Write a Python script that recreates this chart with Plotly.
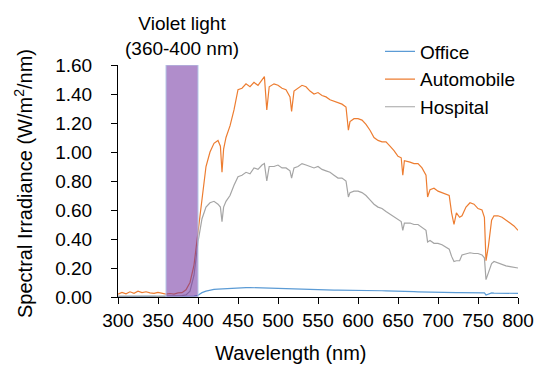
import plotly.graph_objects as go

# Wavelength (nm) sample positions
wavelength = [
    300, 305, 310, 315, 320, 325, 330, 335, 340, 345,
    350, 355, 360, 365, 370, 375, 380, 385, 390, 395,
    400, 405, 410, 415, 420, 425, 428, 430, 432, 435,
    440, 445, 450, 455, 460, 465, 470, 475, 480, 483,
    486, 489, 495, 500, 505, 510, 515, 517, 520, 525,
    530, 535, 540, 545, 550, 555, 560, 565, 570, 575,
    580, 585, 588, 590, 595, 600, 605, 610, 615, 620,
    625, 630, 635, 640, 645, 650, 654, 656, 658, 665,
    670, 675, 680, 685, 687, 690, 695, 700, 705, 710,
    714, 717, 720, 723, 727, 730, 735, 740, 745, 750,
    755, 758, 760, 763, 767, 770, 775, 780, 785, 790,
    795, 800,
]

office = [
    0.003, 0.003, 0.003, 0.003, 0.003, 0.003, 0.003, 0.003, 0.003, 0.003,
    0.003, 0.003, 0.003, 0.004, 0.003, 0.004, 0.004, 0.005, 0.005, 0.006,
    0.012, 0.030, 0.040, 0.048, 0.052, 0.055, 0.056, 0.056, 0.057, 0.058,
    0.062, 0.064, 0.066, 0.066, 0.065, 0.065, 0.064, 0.064, 0.062, 0.062,
    0.061, 0.061, 0.060, 0.060, 0.058, 0.056, 0.054, 0.054, 0.054, 0.053,
    0.053, 0.052, 0.052, 0.051, 0.050, 0.050, 0.050, 0.049, 0.048, 0.048,
    0.048, 0.047, 0.047, 0.046, 0.046, 0.046, 0.045, 0.045, 0.044, 0.044,
    0.043, 0.043, 0.042, 0.042, 0.041, 0.040, 0.040, 0.040, 0.039, 0.038,
    0.037, 0.036, 0.035, 0.034, 0.033, 0.033, 0.032, 0.032, 0.032, 0.031,
    0.031, 0.031, 0.030, 0.030, 0.030, 0.030, 0.030, 0.030, 0.030, 0.030,
    0.029, 0.028, 0.014, 0.022, 0.028, 0.027, 0.026, 0.026, 0.025, 0.025,
    0.025, 0.025,
]

automobile = [
    0.020, 0.032, 0.022, 0.036, 0.026, 0.040, 0.030, 0.036, 0.028, 0.025,
    0.032, 0.028, 0.020, 0.024, 0.020, 0.028, 0.030, 0.050, 0.100, 0.220,
    0.450, 0.680, 0.900, 1.000, 1.060, 1.080, 1.040, 0.860, 1.020, 1.100,
    1.180, 1.290, 1.430, 1.440, 1.470, 1.450, 1.480, 1.460, 1.500, 1.520,
    1.290, 1.450, 1.470, 1.460, 1.440, 1.430, 1.380, 1.280, 1.420, 1.440,
    1.460, 1.450, 1.420, 1.400, 1.410, 1.390, 1.380, 1.360, 1.350, 1.340,
    1.330, 1.310, 1.150, 1.210, 1.230, 1.230, 1.220, 1.190, 1.150, 1.100,
    1.080, 1.070, 1.070, 1.040, 1.010, 0.970, 0.960, 0.840, 0.940, 0.930,
    0.920, 0.920, 0.890, 0.840, 0.690, 0.740, 0.750, 0.730, 0.720, 0.710,
    0.700, 0.580, 0.500, 0.580, 0.550, 0.560, 0.620, 0.650, 0.640, 0.610,
    0.600, 0.550, 0.250, 0.350, 0.530, 0.560, 0.560, 0.550, 0.530, 0.510,
    0.490, 0.460,
]

hospital = [
    0.006, 0.005, 0.007, 0.006, 0.005, 0.006, 0.007, 0.005, 0.006, 0.006,
    0.005, 0.006, 0.006, 0.007, 0.006, 0.008, 0.010, 0.015, 0.040, 0.150,
    0.380, 0.540, 0.620, 0.650, 0.660, 0.640, 0.620, 0.520, 0.620, 0.660,
    0.700, 0.770, 0.830, 0.840, 0.860, 0.850, 0.890, 0.880, 0.910, 0.920,
    0.800, 0.900, 0.900, 0.910, 0.890, 0.890, 0.870, 0.820, 0.890, 0.900,
    0.920, 0.910, 0.900, 0.890, 0.900, 0.880, 0.870, 0.860, 0.840, 0.820,
    0.820, 0.800, 0.690, 0.720, 0.730, 0.730, 0.720, 0.700, 0.670, 0.640,
    0.620, 0.610, 0.590, 0.570, 0.550, 0.530, 0.520, 0.460, 0.510, 0.510,
    0.500, 0.500, 0.480, 0.460, 0.380, 0.390, 0.370, 0.370, 0.360, 0.340,
    0.330, 0.280, 0.245, 0.250, 0.250, 0.290, 0.300, 0.305, 0.300, 0.300,
    0.290, 0.270, 0.120, 0.170, 0.230, 0.245, 0.235, 0.220, 0.215, 0.210,
    0.205, 0.200,
]

series_names = ["Office", "Automobile", "Hospital"]
series_colors = ["#5B9BD5", "#ED7D31", "#A5A5A5"]

violet_band = [360, 400]
violet_label = "Violet light<br>(360-400 nm)"
x_ticks = list(range(300, 801, 50))
y_ticks = [0.0, 0.2, 0.4, 0.6, 0.8, 1.0, 1.2, 1.4, 1.6]

FONT = "Liberation Sans, Arial, sans-serif"

fig = go.Figure()
for name, vals, col in zip(series_names, [office, automobile, hospital], series_colors):
    fig.add_trace(go.Scatter(x=wavelength, y=vals, mode="lines", name=name,
                             line=dict(color=col, width=1.2)))

fig.add_shape(type="rect", xref="x", yref="y",
              x0=violet_band[0], x1=violet_band[1], y0=0, y1=1.6,
              fillcolor="rgba(112,48,160,0.55)",
              line=dict(color="#B4C7E7", width=1), layer="above")

fig.add_annotation(text=violet_label, xref="x", yref="paper",
                   x=sum(violet_band) / 2, y=1.127, showarrow=False,
                   xanchor="center", yanchor="middle",
                   font=dict(size=19, color="#000000", family=FONT))

fig.add_annotation(text="Spectral Irradiance (W/m<sup>2</sup>/nm)", xref="paper", yref="paper",
                   x=-0.2375, y=0.487, textangle=-90, showarrow=False,
                   xanchor="center", yanchor="middle",
                   font=dict(size=20, color="#000000", family=FONT))

fig.add_annotation(text="Wavelength (nm)", xref="paper", yref="paper",
                   x=0.4325, y=-0.241, showarrow=False,
                   xanchor="center", yanchor="middle",
                   font=dict(size=20, color="#000000", family=FONT))

# page body adds an 8px margin, so the figure is 8px smaller and shifted
fig.update_layout(
    width=537, height=359,
    margin=dict(l=110, r=27, t=57, b=70),
    paper_bgcolor="white", plot_bgcolor="white",
    font=dict(family=FONT, size=19, color="#000000"),
    showlegend=True,
    legend=dict(x=0.655, y=1.14, xanchor="left", yanchor="top",
                bgcolor="rgba(0,0,0,0)", font=dict(size=19, family=FONT),
                tracegroupgap=0, itemwidth=30),
)

fig.update_xaxes(range=[300, 800], tickvals=x_ticks, showgrid=False, zeroline=False,
                 showline=True, linecolor="#000000", linewidth=1,
                 ticks="outside", ticklen=6, tickcolor="#000000",
                 tickfont=dict(size=19, family=FONT, color="#000000"))
fig.update_yaxes(range=[0, 1.6], tickvals=y_ticks, tickformat=".2f", showgrid=False,
                 zeroline=False, showline=True, linecolor="#000000", linewidth=1,
                 ticks="outside", ticklen=6, tickcolor="#000000", ticklabelstandoff=15,
                 tickfont=dict(size=19, family=FONT, color="#000000"))

fig.write_html("out.html")
